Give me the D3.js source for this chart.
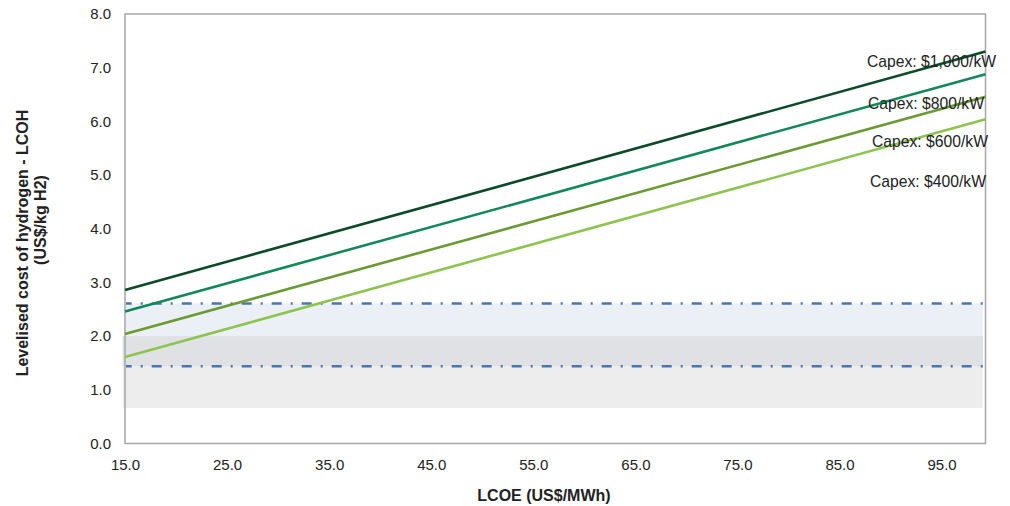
<!DOCTYPE html>
<html><head><meta charset="utf-8">
<script src="https://cdn.jsdelivr.net/npm/d3@7"></script>
<style>
body{margin:0;background:#fff;}
text{font-family:"Liberation Sans",Arial,sans-serif;fill:#222;}
</style></head><body>
<svg id="c" width="1010" height="506"></svg>
<script>
// ---- data ----
const xTicks = [15, 25, 35, 45, 55, 65, 75, 85, 95];
const yTicks = [0, 1, 2, 3, 4, 5, 6, 7, 8];
const xDomain = [15, 99.3];
const seriesNames = ["Capex: $1,000/kW", "Capex: $800/kW", "Capex: $600/kW", "Capex: $400/kW"];
const lcoeX = [15, 99.3];
const capex1000 = [2.86, 7.30];
const capex800 = [2.46, 6.88];
const capex600 = [2.04, 6.46];
const capex400 = [1.61, 6.04];
const bandGrayRange = [0.66, 2.0];
const bandBlueRange = [1.44, 2.61];
const colors = ["#0c4a2a", "#12875a", "#6b9a34", "#8dc450"];
const labelY = [62, 104, 142, 182];
const labelX = [867, 868, 872, 870];

const svg = d3.select("#c");
const L = 125, R = 985.5, T = 14, B = 443.5;
const x = d3.scaleLinear().domain(xDomain).range([L, R]);
const y = d3.scaleLinear().domain([0, 8]).range([B, T]);

// bands
const bx0 = L - 2.3, bx1 = 982.7;
const ovLo = Math.max(bandGrayRange[0], bandBlueRange[0]);
const ovHi = Math.min(bandGrayRange[1], bandBlueRange[1]);
svg.append("rect").attr("x", bx0).attr("width", bx1 - bx0)
  .attr("y", y(bandGrayRange[1])).attr("height", y(bandGrayRange[0]) - y(bandGrayRange[1]))
  .attr("fill", "#ededed");
svg.append("rect").attr("x", L).attr("width", bx1 - L)
  .attr("y", y(bandBlueRange[1])).attr("height", y(bandBlueRange[0]) - y(bandBlueRange[1]))
  .attr("fill", "#eaf0f5");
svg.append("rect").attr("x", bx0).attr("width", bx1 - bx0)
  .attr("y", y(ovHi)).attr("height", y(ovLo) - y(ovHi))
  .attr("fill", "#dfe1e5");

// dashed lines
bandBlueRange.forEach(v => {
  svg.append("line").attr("x1", L + 1).attr("x2", bx1)
    .attr("y1", y(v)).attr("y2", y(v))
    .attr("stroke", "#4c75ab").attr("stroke-width", 2.5)
    .attr("stroke-dasharray", "10,9,2,9").attr("stroke-dashoffset", 4.3);
});

// frame
svg.append("rect").attr("x", L).attr("y", T).attr("width", R - L).attr("height", B - T)
  .attr("fill", "none").attr("stroke", "#a6a6a6").attr("stroke-width", 1.5);

// series lines
const allSeries = [capex1000, capex800, capex600, capex400];
const line = d3.line().x(d => x(d[0])).y(d => y(d[1]));
allSeries.forEach((s, i) => {
  svg.append("path").datum(lcoeX.map((xv, j) => [xv, s[j]]))
    .attr("d", line).attr("fill", "none")
    .attr("stroke", colors[i]).attr("stroke-width", 2.6);
});

// labels
seriesNames.forEach((n, i) => {
  svg.append("text").attr("x", labelX[i]).attr("y", labelY[i]).attr("dy", "0.35em")
    .attr("font-size", 15.7).text(n);
});

// axes
const xAxis = d3.axisBottom(x).tickValues(xTicks).tickFormat(d3.format(".1f")).tickSize(0).tickPadding(0);
const gx = svg.append("g").attr("transform", `translate(0,${B})`).call(xAxis);
gx.select(".domain").remove();
gx.selectAll("text").attr("y", 21).attr("dy", "0.35em").attr("font-size", 15).style("fill", "#222");

const yAxis = d3.axisLeft(y).tickValues(yTicks).tickFormat(d3.format(".1f")).tickSize(0).tickPadding(0);
const gy = svg.append("g").attr("transform", `translate(111,0)`).call(yAxis);
gy.select(".domain").remove();
gy.selectAll("text").attr("x", 0).attr("font-size", 15).style("fill", "#222");

// axis titles
svg.append("text").attr("x", 544).attr("y", 495).attr("dy", "0.35em")
  .attr("text-anchor", "middle").attr("font-size", 16).attr("font-weight", "bold").text("LCOE (US$/MWh)");
svg.append("text").attr("transform", `translate(28,243) rotate(-90)`)
  .attr("text-anchor", "middle").attr("font-size", 16).attr("font-weight", "bold")
  .text("Levelised cost of hydrogen - LCOH");
svg.append("text").attr("transform", `translate(46,220) rotate(-90)`)
  .attr("text-anchor", "middle").attr("font-size", 16).attr("font-weight", "bold")
  .text("(US$/kg H2)");
</script></body></html>
